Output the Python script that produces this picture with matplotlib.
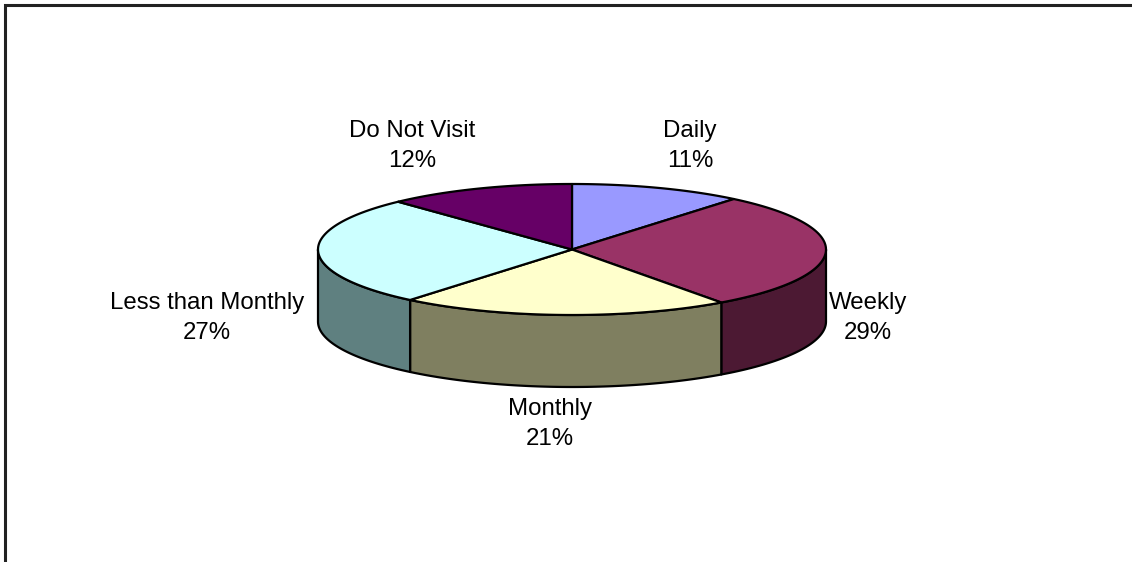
import numpy as np
import matplotlib.pyplot as plt
from matplotlib.patches import Polygon

categories = ["Daily", "Weekly", "Monthly", "Less than Monthly", "Do Not Visit"]
shares = [11, 29, 21, 27, 12]
top_colors = ["#9999FF", "#993366", "#FFFFCC", "#CCFFFF", "#660066"]
side_colors = ["#4D4D80", "#4C1933", "#7F7F60", "#5F8080", "#330033"]

W, H = 1132, 562
cx, cy = 572, 249.5   # centre of the top face, pixels
rx, ry = 254, 65.5    # ellipse radii
depth = 72

fig = plt.figure(figsize=(W / 100, H / 100), dpi=100)
ax = fig.add_axes([0, 0, 1, 1])
ax.set_xlim(0, W)
ax.set_ylim(H, 0)
ax.axis("off")


def rim(t0, t1, dy=0, n=80):
    t = np.radians(np.linspace(t0, t1, n))
    return np.column_stack([cx + rx * np.sin(t), cy - ry * np.cos(t) + dy])


fracs = np.array(shares) / sum(shares)
ends = np.cumsum(fracs) * 360
starts = ends - fracs * 360

# front side walls (only 90..270 deg is visible)
for a, b, col in zip(starts, ends, side_colors):
    lo, hi = max(a, 90), min(b, 270)
    if hi <= lo:
        continue
    pts = np.vstack([rim(lo, hi), rim(lo, hi, depth)[::-1]])
    ax.add_patch(Polygon(pts, closed=True, facecolor=col, edgecolor="black",
                         linewidth=1.6, joinstyle="round"))

# top faces
for a, b, col in zip(starts, ends, top_colors):
    pts = np.vstack([[cx, cy], rim(a, b)])
    ax.add_patch(Polygon(pts, closed=True, facecolor=col, edgecolor="black",
                         linewidth=1.6, joinstyle="round"))

# data labels
label_pos = [(690, 146), (868, 318), (550, 424), (207, 318), (412, 146)]
for name, val, (lx, ly) in zip(categories, shares, label_pos):
    ax.text(lx, ly, f"{name}\n{val}%", ha="center", va="center",
            fontsize=17.3, family="Liberation Sans", linespacing=1.45,
            color="black")

# chart area frame (left and top edges only are in view)
ax.plot([5, 5, W], [H, 5, 5], color="#222222", linewidth=2.2,
        solid_joinstyle="miter")

fig.savefig("out.png", dpi=100)
